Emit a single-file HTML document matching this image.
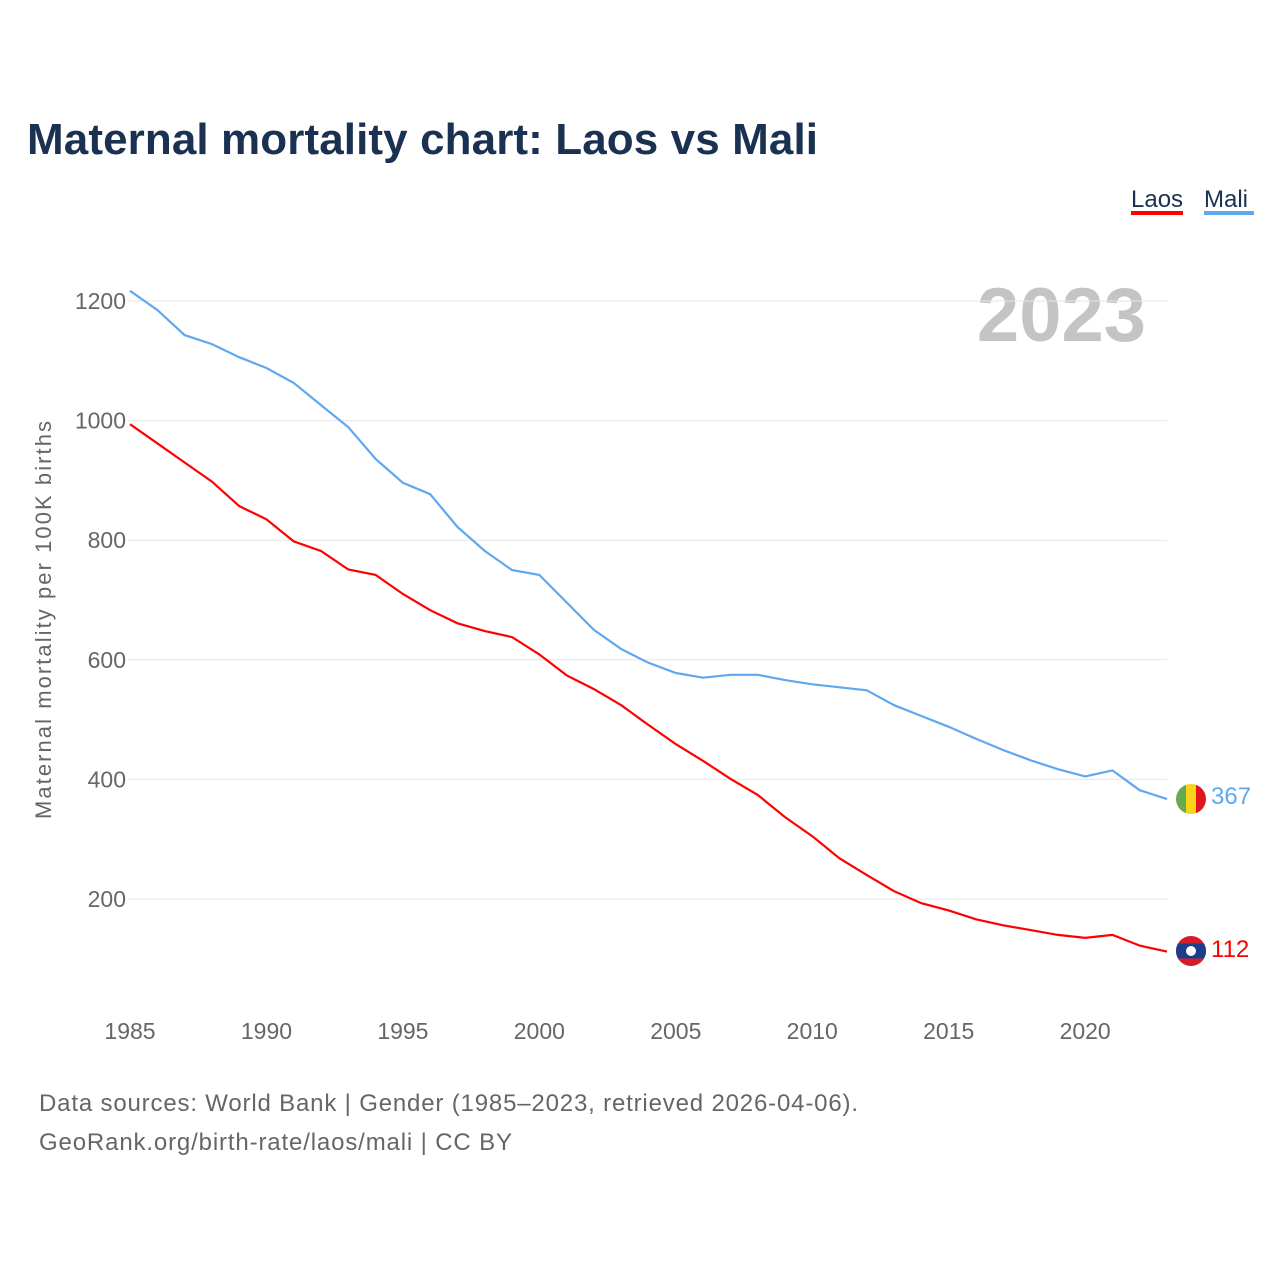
<!DOCTYPE html>
<html><head><meta charset="utf-8">
<style>
body{margin:0;background:#fff;width:1280px;height:1280px;overflow:hidden;font-family:"Liberation Sans",sans-serif}
</style></head>
<body>
<svg id="chart" width="1280" height="1280" xmlns="http://www.w3.org/2000/svg" font-family="Liberation Sans, sans-serif">
<text x="27" y="154" font-size="44" font-weight="bold" fill="#1b3152" textLength="791">Maternal mortality chart: Laos vs Mali</text>
<g>
<g><text x="1131" y="207" font-size="24" fill="#1b3152">Laos</text><rect x="1131" y="211" width="52" height="4" fill="#ff0000"/></g>
<g><text x="1204" y="207" font-size="24" fill="#1b3152">Mali</text><rect x="1204" y="211" width="50" height="4" fill="#5fa8f0"/></g>
</g>
<text x="1146" y="341" font-size="76" font-weight="bold" fill="#c4c4c4" text-anchor="end">2023</text>
<text transform="translate(51,620) rotate(-90)" font-size="22" fill="#666" text-anchor="middle" textLength="398">Maternal mortality per 100K births</text>
<g id="grid"></g><g id="xt"></g><g id="lines"></g>
<text x="39" y="1111" font-size="24" fill="#666" textLength="819">Data sources: World Bank | Gender (1985–2023, retrieved 2026-04-06).</text>
<text x="39" y="1150" font-size="24" fill="#666" textLength="473">GeoRank.org/birth-rate/laos/mali | CC BY</text>
<defs>
<clipPath id="c1"><circle cx="1191" cy="799" r="15"/></clipPath>
<clipPath id="c2"><circle cx="1191" cy="951" r="15"/></clipPath>
</defs>
<g clip-path="url(#c1)">
<rect x="1176" y="784" width="10" height="30" fill="#6aa84f"/><rect x="1186" y="784" width="10" height="30" fill="#f7d31a"/><rect x="1196" y="784" width="10" height="30" fill="#e0151f"/>
</g>
<g clip-path="url(#c2)">
<rect x="1176" y="936" width="30" height="30" fill="#d51e2a"/><rect x="1176" y="943.5" width="30" height="15" fill="#1c3c8c"/><circle cx="1191" cy="951" r="5" fill="#fff"/>
</g>
<text x="1211" y="804" font-size="24" fill="#5fa8f0">367</text>
<text x="1211" y="957" font-size="24" fill="#ff0000">112</text>
</svg>
<script>
const years=[];for(let y=1985;y<=2023;y++)years.push(y);
const laos=[994,962,930,898,857,835,798,782,751,742,710,683,661,648,638,609,574,551,524,491,459,431,401,374,337,305,268,240,213,193,181,166,156,148,140,135,140,122,112];
const mali=[1217,1185,1143,1128,1106,1088,1063,1026,989,936,896,877,822,782,750,742,696,650,618,595,578,570,575,575,566,559,554,549,524,506,488,468,449,432,417,405,415,382,367];
const yTicks=[200,400,600,800,1000,1200];
const xTicks=[1985,1990,1995,2000,2005,2010,2015,2020];
const NS="http://www.w3.org/2000/svg";
const X=v=>130+(v-1985)*27.29, Y=v=>1018.6-v*0.598;
function mk(t,a,p){const e=document.createElementNS(NS,t);for(const k in a)e.setAttribute(k,a[k]);p.appendChild(e);return e;}
const g=document.getElementById('grid');
yTicks.forEach(v=>{
 const l=mk('line',{x1:128,x2:1167,y1:Y(v),y2:Y(v),stroke:'#e6e6e6','stroke-width':1},g);
 
 
 const t=mk('text',{x:126,y:Y(v)+8,'font-size':23,fill:'#666','text-anchor':'end'},g);t.textContent=v;
 
 
});
const xt=document.getElementById('xt');
xTicks.forEach(v=>{
 const t=mk('text',{x:X(v),y:1039,'font-size':23,fill:'#666','text-anchor':'middle'},xt);t.textContent=v;
 
 
});
const L=document.getElementById('lines');
function line(d,c,n){const p=mk('path',{d:d.map((v,i)=>(i?'L':'M')+X(years[i]).toFixed(1)+','+Y(v).toFixed(1)).join(''),fill:'none',stroke:c,'stroke-width':2.2},L);
 
 }
line(mali,'#5fa8f0','mali-line');
line(laos,'#ff0000','laos-line');
</script>
</body></html>
